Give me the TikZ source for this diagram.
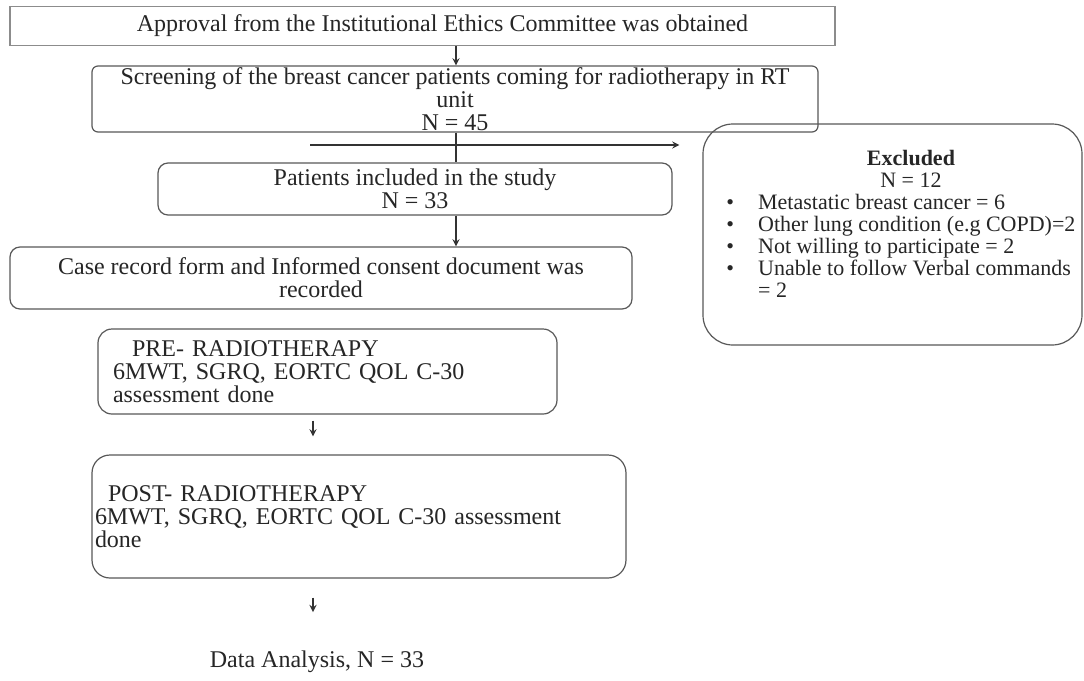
\documentclass[tikz,border=0pt]{standalone}
\usepackage{fontspec}
\setmainfont{Liberation Serif}
\usetikzlibrary{positioning, arrows, shapes}
\tikzset{
    >=stealth, % small filled arrow heads
    every node/.style={font=\fontsize{12}{11.5}\selectfont, text=black!85},
    flowbox/.style={draw=black!65, line width=0.6pt, rounded corners=3pt, inner sep=0pt, align=center}, % boxes of the flow chart
    stagebox/.style={flowbox, align=left, rounded corners=7pt}, % boxes of the two assessments
    link/.style={->, line width=0.6pt, draw=black!80}, % connectors
}
\begin{document}
\begin{tikzpicture}[x=0.5pt, y=-0.5pt]
    \useasboundingbox (0,0) rectangle (1084,681);
    \fill[white] (0,0) rectangle (1084,681);

    \node[flowbox, draw=black!45, rounded corners=0pt, minimum width=412.5pt, minimum height=19.5pt] (approval) at (422.5,26)
        {\hspace*{20pt}Approval from the Institutional Ethics Committee was obtained};
    \node[flowbox, minimum width=363pt, minimum height=33pt] (screen) at (455,99)
        {Screening of the breast cancer patients coming for radiotherapy in RT\\ unit\\ N = 45};
    \node[flowbox, rounded corners=5pt, minimum width=257pt, minimum height=26pt] (included) at (415,189)
        {Patients included in the study\\ N = 33};
    \node[flowbox, rounded corners=5pt, minimum width=311pt, minimum height=31pt] (record) at (321,278)
        {Case record form and Informed consent document was\\ recorded};
    \node[stagebox, minimum height=42.5pt, text width=214.5pt, inner xsep=7.5pt] (pre) at (327.5,371.5)
        {\hspace*{9.5pt}PRE- RADIOTHERAPY\\ 6MWT, SGRQ, EORTC QOL C-30\\ assessment done};
    \node[stagebox, rounded corners=9pt, minimum height=61.5pt, text width=264pt, inner xsep=1.5pt] (post) at (359,516.5)
        {\hspace*{6.5pt}POST- RADIOTHERAPY\\ 6MWT, SGRQ, EORTC QOL C-30 assessment\\ done};
    \node (analysis) at (317,662) {Data Analysis, N = 33};

    % exclusion box on the right
    \node[flowbox, rounded corners=15pt, minimum width=189.5pt, minimum height=110.5pt] (excluded) at (892.5,234.5) {};
    \node[anchor=north west, font=\fontsize{11}{11}\selectfont] (reasons) at ([xshift=8.5pt, yshift=-10pt]excluded.north west) {%
        \begin{tabular}{@{}l@{\hspace{12pt}}l@{}}
            \multicolumn{2}{c}{\hspace*{10pt}\textbf{Excluded}}\\
            \multicolumn{2}{c}{\hspace*{10pt}N = 12}\\
            \textbullet & Metastatic breast cancer = 6\\
            \textbullet & Other lung condition (e.g COPD)=2\\
            \textbullet & Not willing to participate = 2\\
            \textbullet & Unable to follow Verbal commands\\
                        & = 2
        \end{tabular}};

    % connectors
    \coordinate (spine) at (456,0);
    \coordinate (lowline) at (313,0);
    \coordinate (exclstart) at (310,145);
    \draw[link] (approval.south -| spine) -- (screen.north -| spine);
    \draw[link, -] (screen.south -| spine) -- (included.north -| spine);
    \draw[link] (exclstart) -- ([xshift=-11.5pt]excluded.west |- exclstart);
    \draw[link] (included.south -| spine) -- (record.north -| spine);
    \draw[link] ([yshift=-3pt]pre.south -| lowline) -- ([yshift=9pt]post.north -| lowline);
    \draw[link] ([yshift=-9.5pt]post.south -| lowline) -- ([yshift=16pt]analysis.north -| lowline);
\end{tikzpicture}
\end{document}
